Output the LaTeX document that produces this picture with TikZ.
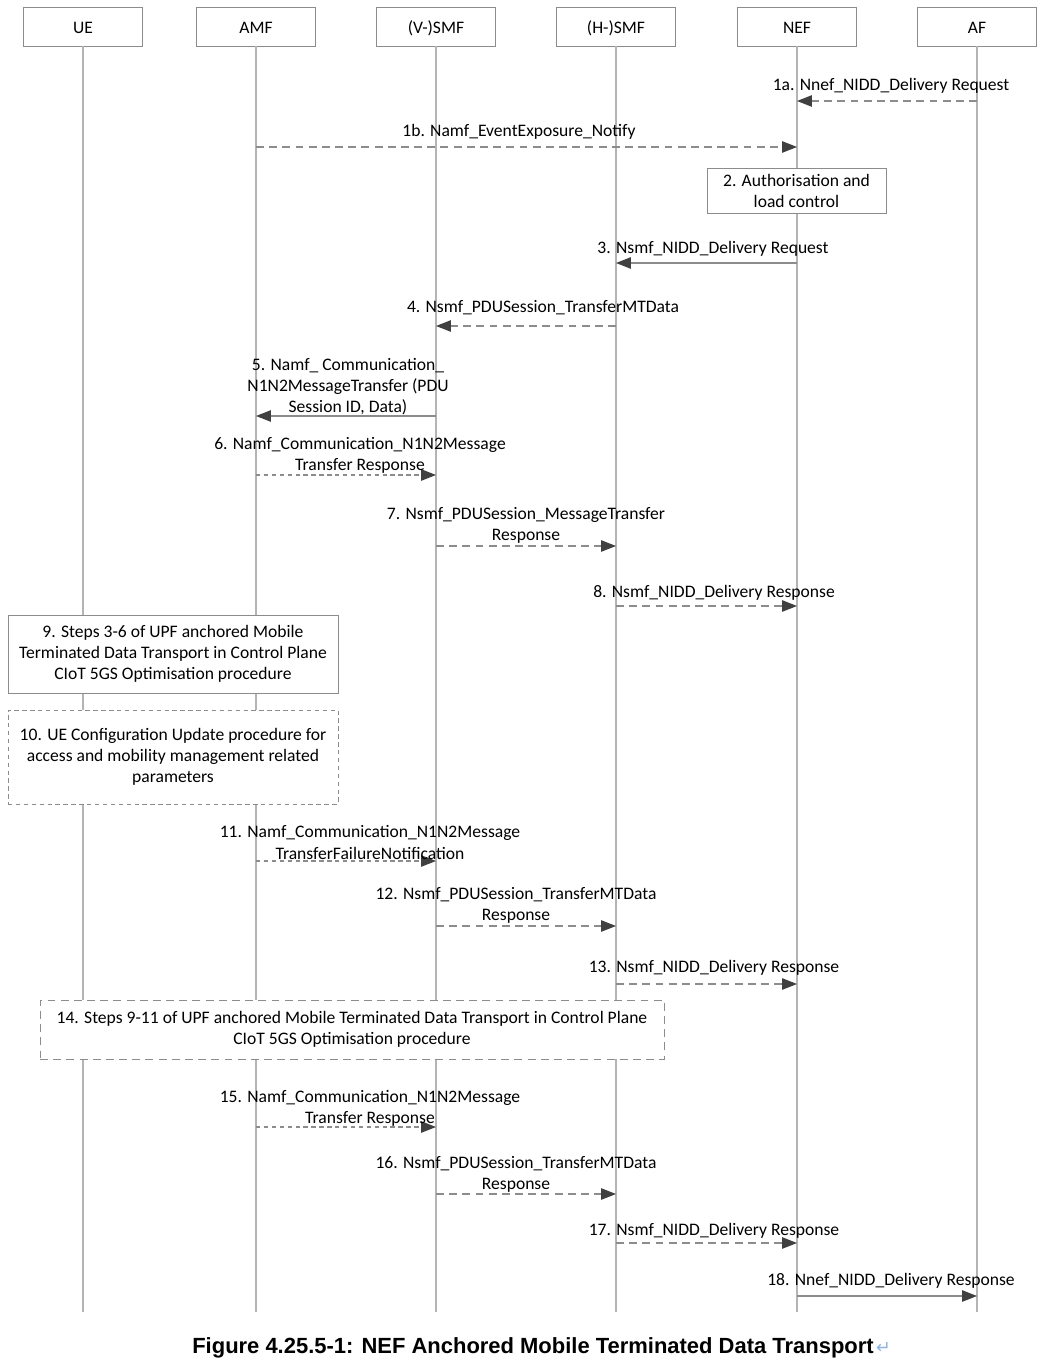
\documentclass[tikz,border=0pt]{standalone}
\usepackage{fontspec}
\setmainfont{Carlito}
\newfontfamily\capfont{Liberation Sans}
\newfontfamily\markfont{DejaVu Sans}
\usetikzlibrary{arrows.meta,positioning}

\definecolor{lifegray}{HTML}{B4B4B4}
\definecolor{linegray}{HTML}{8C8C8C}
\definecolor{headgray}{HTML}{404040}
\definecolor{markblue}{HTML}{8DB3E2}

\tikzset{
  entity/.style={draw=linegray, minimum width=2.38cm, minimum height=0.78cm, text height=8pt, text depth=0.4pt, font=\fontsize{10}{12}\selectfont},
  life/.style={draw=lifegray, line width=0.6pt},
  msg/.style={draw=linegray, line width=0.7pt, -{Triangle[length=8.5pt,width=6.5pt,color=headgray,fill=headgray]}},
  dmsg/.style={msg, dash pattern=on 4.5pt off 3pt},
  fmsg/.style={msg, dash pattern=on 2.5pt off 2pt},
  lbl/.style={inner sep=0pt, align=center, yshift=-0.04cm, font=\fontsize{10}{12}\selectfont},
  stepbox/.style={draw=linegray, fill=white, align=center, font=\fontsize{10}{12}\selectfont},
}

\begin{document}
\begin{tikzpicture}[x=0.02cm, y=-0.02cm]

\useasboundingbox (0,0) rectangle (1042,1364);

\def\yend{1312}

\node[entity] (ue) at (83,26.5) {UE};
\node[entity] (amf) at (256,26.5) {AMF};
\node[entity] (vsmf) at (436,26.5) {(V-)SMF};
\node[entity] (hsmf) at (616,26.5) {(H-)SMF};
\node[entity] (nef) at (797,26.5) {NEF};
\node[entity] (af) at (977,26.5) {AF};

\draw[life] (ue.south) -- (ue |- 0,\yend);
\draw[life] (amf.south) -- (amf |- 0,\yend);
\draw[life] (vsmf.south) -- (vsmf |- 0,\yend);
\draw[life] (hsmf.south) -- (hsmf |- 0,\yend);
\draw[life] (nef.south) -- (nef |- 0,\yend);
\draw[life] (af.south) -- (af |- 0,\yend);

\draw[dmsg] (af |- 0,101) -- (nef |- 0,101);
\node[lbl] (l1a) at (891,84) {1a. Nnef\_NIDD\_Delivery Request};

\draw[dmsg] (amf |- 0,147) -- (nef |- 0,147);
\node[lbl] (l1b) at (519,130) {1b. Namf\_EventExposure\_Notify};

\node[stepbox, minimum width=3.58cm, minimum height=0.8cm] (s2) at (796.5,191) {2. Authorisation and\\load control};

\draw[msg] (nef |- 0,263) -- (hsmf |- 0,263);
\node[lbl] (l3) at (713,247) {3. Nsmf\_NIDD\_Delivery Request};

\draw[dmsg] (hsmf |- 0,326) -- (vsmf |- 0,326);
\node[lbl] (l4) at (543,306) {4. Nsmf\_PDUSession\_TransferMTData};

\draw[msg] (vsmf |- 0,416) -- (amf |- 0,416);
\node[lbl] (l5) at (348,385) {5. Namf\_ Communication\_\\N1N2MessageTransfer (PDU\\Session ID, Data)};

\draw[fmsg] (amf |- 0,475) -- (vsmf |- 0,475);
\node[lbl] (l6) at (360,453.5) {6. Namf\_Communication\_N1N2Message\\Transfer Response};

\draw[dmsg] (vsmf |- 0,546) -- (hsmf |- 0,546);
\node[lbl] (l7) at (526,523.5) {7. Nsmf\_PDUSession\_MessageTransfer\\Response};

\draw[dmsg] (hsmf |- 0,606) -- (nef |- 0,606);
\node[lbl] (l8) at (714,591) {8. Nsmf\_NIDD\_Delivery Response};

\node[stepbox, minimum width=6.6cm, minimum height=1.56cm] (s9) at (173,654) {9. Steps 3-6 of UPF anchored Mobile\\Terminated Data Transport in Control Plane\\CIoT 5GS Optimisation procedure};

\node[stepbox, dash pattern=on 2.5pt off 2pt, minimum width=6.6cm, minimum height=1.88cm] (s10) at (173,757) {10. UE Configuration Update procedure for\\access and mobility management related\\parameters};

\draw[fmsg] (amf |- 0,861) -- (vsmf |- 0,861);
\node[lbl] (l11) at (370,840.5) {11. Namf\_Communication\_N1N2Message\\TransferFailureNotification};

\draw[dmsg] (vsmf |- 0,926) -- (hsmf |- 0,926);
\node[lbl] (l12) at (516,903.5) {12. Nsmf\_PDUSession\_TransferMTData\\Response};

\draw[dmsg] (hsmf |- 0,984) -- (nef |- 0,984);
\node[lbl] (l13) at (714,966) {13. Nsmf\_NIDD\_Delivery Response};

\node[stepbox, dash pattern=on 4.5pt off 3pt, minimum width=12.48cm, minimum height=1.18cm] (s14) at (352,1029.5) {14. Steps 9-11 of UPF anchored Mobile Terminated Data Transport in Control Plane\\CIoT 5GS Optimisation procedure};

\draw[fmsg] (amf |- 0,1127) -- (vsmf |- 0,1127);
\node[lbl] (l15) at (370,1106.5) {15. Namf\_Communication\_N1N2Message\\Transfer Response};

\draw[dmsg] (vsmf |- 0,1194) -- (hsmf |- 0,1194);
\node[lbl] (l16) at (516,1172) {16. Nsmf\_PDUSession\_TransferMTData\\Response};

\draw[dmsg] (hsmf |- 0,1243) -- (nef |- 0,1243);
\node[lbl] (l17) at (714,1229) {17. Nsmf\_NIDD\_Delivery Response};

\draw[msg] (nef |- 0,1296) -- (af |- 0,1296);
\node[lbl] (l18) at (891,1279) {18. Nnef\_NIDD\_Delivery Response};

\node[inner sep=0pt, font=\capfont\bfseries\fontsize{12.5}{14}\selectfont] (caption) at (533,1348) {Figure 4.25.5-1: NEF Anchored Mobile Terminated Data Transport};
\node[inner sep=0pt, right=1pt of caption, text=markblue, font=\markfont\fontsize{10}{12}\selectfont] (pmark) {↵};

\end{tikzpicture}
\end{document}
